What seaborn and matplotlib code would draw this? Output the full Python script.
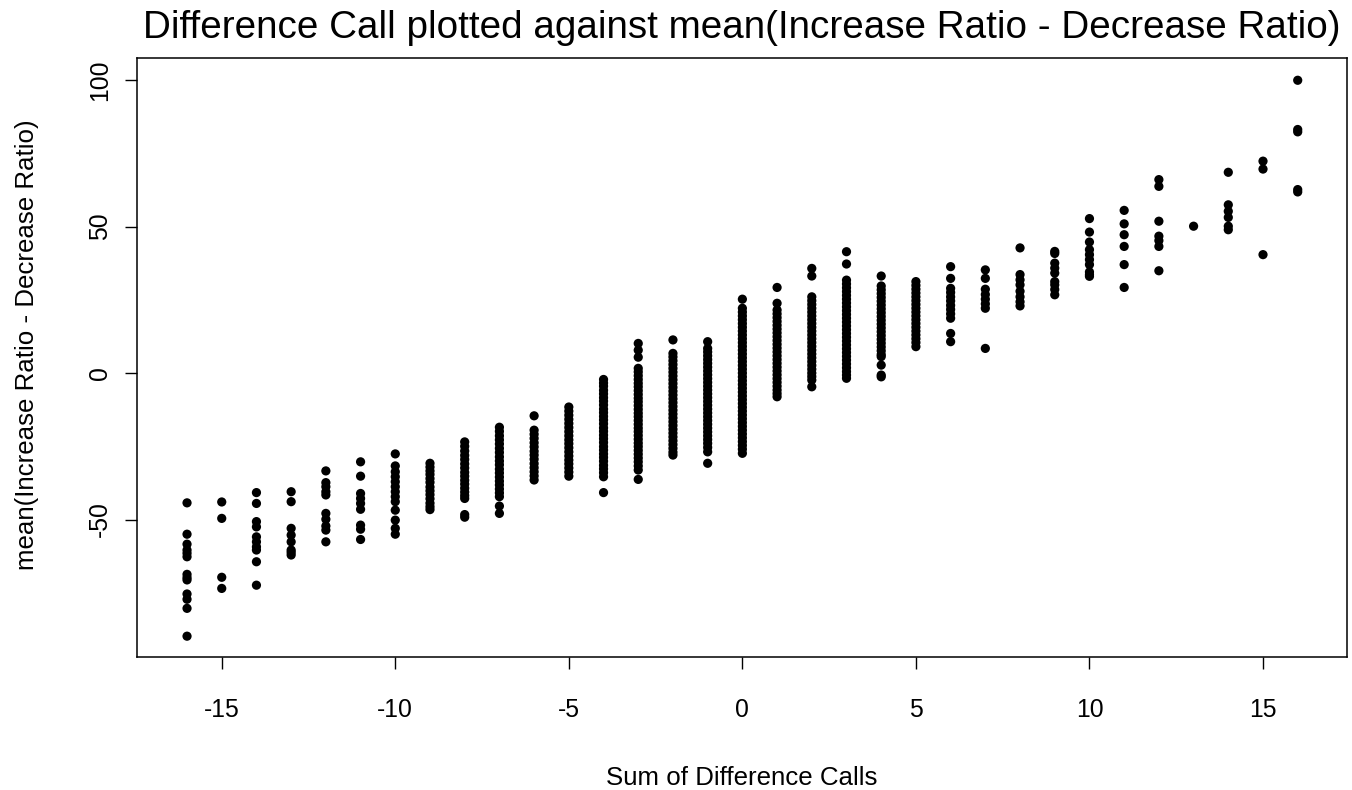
import numpy as np
import pandas as pd
import matplotlib
matplotlib.use("Agg")
import matplotlib.pyplot as plt
import seaborn as sns

# ---- data: y values per "Sum of Difference Calls" column ----
col_m16 = [-44.3, -55.0, -58.4, -60.4, -61.5, -62.7, -68.7, -69.8, -70.6, -75.4, -77.2, -80.3, -89.8]
col_m15 = [-44.0, -49.6, -69.7, -73.5]
col_m14 = [-40.8, -44.5, -50.7, -52.5, -55.9, -57.6, -59.3, -60.4, -64.4, -72.4]
col_m13 = [-40.5, -43.9, -53.0, -55.3, -57.6, -60.4, -61.2, -62.1]
col_m12 = [-33.4, -37.4, -38.8, -40.5, -41.6, -47.9, -49.9, -52.2, -53.6, -57.6]
col_m11 = [-30.3, -35.2, -41.1, -42.8, -44.5, -46.5, -51.9, -53.3, -56.8]
col_m10 = [-27.6, -31.7, -33.7, -35.4, -37.1, -38.8, -40.5, -42.2, -43.9, -46.8, -50.2, -53.0, -55.0]
col_m9 = [-30.8, -32.1, -33.4, -34.6, -36.0, -37.3, -38.9, -40.2, -41.5, -42.9, -44.4, -45.6, -46.6]
col_m8 = [-23.5, -25.0, -26.6, -28.1, -29.5, -31.0, -32.4, -33.9, -35.2, -36.6, -37.9, -39.3,
          -40.6, -41.8, -42.8, -48.3, -49.2]
col_m7 = [-18.5, -19.9, -21.4, -22.8, -24.2, -25.7, -27.1, -28.6, -30.0, -31.3, -32.8, -34.1,
          -35.5, -36.9, -38.2, -39.6, -40.9, -42.2, -45.4, -47.9]
col_m6 = [-14.6, -19.5, -20.9, -22.3, -23.8, -25.2, -26.7, -28.0, -29.4, -30.9, -32.3, -33.7,
          -35.1, -36.5]
col_m5 = [-11.6, -13.0, -14.4, -15.8, -17.2, -18.6, -20.0, -21.4, -22.8, -24.1, -25.5, -26.9,
          -28.3, -29.7, -31.0, -32.4, -33.8, -35.2]
col_m4 = [-2.2, -3.4, -4.5, -5.9, -7.1, -8.4, -9.6, -10.9, -12.3, -13.5, -14.8, -16.0, -17.3,
          -18.7, -19.9, -21.2, -22.4, -23.7, -25.1, -26.3, -27.6, -28.8, -30.1, -31.5, -32.7,
          -34.0, -35.4, -40.8]
col_m3 = [10.1, 7.8, 5.4, 1.6, 0.4, -0.9, -2.2, -3.5, -4.7, -6.0, -7.3, -8.6, -9.8, -11.1, -12.4,
          -13.7, -14.9, -16.2, -17.5, -18.8, -20.0, -21.3, -22.6, -23.9, -25.1, -26.4, -27.7,
          -29.0, -30.3, -31.7, -33.1, -36.3]
col_m2 = [11.3, 6.7, 5.5, 4.2, 2.9, 1.6, 0.3, -1.0, -2.3, -3.6, -4.9, -6.2, -7.5, -8.8, -10.1,
          -11.4, -12.7, -14.0, -15.3, -16.6, -17.9, -19.2, -20.5, -21.8, -23.1, -24.4, -25.7,
          -27.0, -28.0]
col_m1 = [10.7, 8.4, 7.2, 5.9, 4.6, 3.3, 2.0, 0.7, -0.6, -1.9, -3.2, -4.5, -5.8, -7.1, -8.4,
          -9.7, -11.0, -12.3, -13.6, -14.9, -16.2, -17.5, -18.8, -20.1, -21.4, -22.7, -24.0,
          -25.4, -26.9, -30.8]
col_0 = [25.2, 22.1, 20.8, 19.5, 18.2, 16.9, 15.6, 14.3, 13.0, 11.7, 10.4, 9.1, 7.8, 6.5, 5.2,
         3.9, 2.6, 1.3, 0.0, -1.3, -2.6, -3.9, -5.2, -6.5, -7.8, -9.1, -10.4, -11.7, -13.0,
         -14.3, -15.6, -16.9, -18.2, -19.5, -20.8, -22.1, -23.4, -24.7, -26.0, -27.4]
col_1 = [29.2, 23.8, 21.5, 20.2, 18.9, 17.6, 16.3, 15.0, 13.7, 12.4, 11.1, 9.8, 8.5, 7.2, 5.9,
         4.6, 3.3, 2.0, 0.7, -0.6, -1.9, -3.2, -4.5, -5.8, -7.0, -8.1]
col_2 = [35.7, 33.1, 26.0, 24.7, 23.4, 22.1, 20.8, 19.5, 18.2, 16.9, 15.6, 14.3, 13.0, 11.7,
         10.4, 9.1, 7.8, 6.5, 5.2, 3.9, 2.6, 1.3, 0.0, -1.2, -2.4, -4.7]
col_3 = [41.4, 37.2, 31.7, 30.4, 29.1, 27.8, 26.5, 25.2, 23.9, 22.6, 21.3, 20.0, 18.7, 17.4,
         16.1, 14.8, 13.5, 12.2, 10.9, 9.6, 8.3, 7.0, 5.7, 4.4, 3.1, 1.8, 0.5, -0.7, -1.8]
col_4 = [33.1, 29.7, 28.4, 27.1, 25.8, 24.5, 23.2, 21.9, 20.6, 19.3, 18.0, 16.7, 15.4, 14.1,
         12.8, 11.5, 10.2, 8.9, 7.6, 6.3, 5.6, 2.7, -0.7, -1.3]
col_5 = [31.2, 29.9, 28.6, 27.3, 26.0, 24.7, 23.4, 22.1, 20.8, 19.5, 18.2, 16.9, 15.6, 14.3,
         13.0, 11.7, 10.4, 9.0]
col_6 = [36.3, 32.3, 28.9, 27.5, 26.0, 24.6, 23.1, 21.7, 20.2, 18.7, 13.5, 10.7]
col_7 = [35.2, 32.3, 28.6, 26.8, 25.2, 23.6, 22.1, 8.4]
col_8 = [42.7, 33.6, 31.8, 30.1, 27.9, 26.0, 24.3, 22.9]
col_9 = [41.5, 40.8, 37.5, 35.8, 34.1, 31.2, 30.1, 28.5, 26.7]
col_10 = [52.7, 48.1, 44.7, 42.1, 40.4, 38.7, 37.0, 34.5, 33.6, 33.0]
col_11 = [55.5, 50.9, 47.2, 43.2, 37.0, 29.2]
col_12 = [66.0, 63.7, 51.8, 46.7, 45.2, 43.2, 34.9]
col_13 = [50.1]
col_14 = [68.5, 57.4, 55.2, 53.1, 50.1, 48.9]
col_15 = [72.3, 69.6, 40.4]
col_16 = [99.9, 83.1, 82.3, 62.6, 61.8]

sum_calls = list(range(-16, 17))
columns = [col_m16, col_m15, col_m14, col_m13, col_m12, col_m11, col_m10, col_m9, col_m8,
           col_m7, col_m6, col_m5, col_m4, col_m3, col_m2, col_m1, col_0, col_1, col_2,
           col_3, col_4, col_5, col_6, col_7, col_8, col_9, col_10, col_11, col_12, col_13,
           col_14, col_15, col_16]

x_ticks = [-15, -10, -5, 0, 5, 10, 15]
y_ticks = [-50, 0, 50, 100]

title = "Difference Call plotted against mean(Increase Ratio - Decrease Ratio)"
xlabel = "Sum of Difference Calls"
ylabel = "mean(Increase Ratio - Decrease Ratio)"

rows = []
for xv, ys in zip(sum_calls, columns):
    for yv in ys:
        rows.append((xv, yv))
df = pd.DataFrame(rows, columns=["sum", "mean"])

# ---- plot ----
sns.set_theme(style="white")
plt.rcParams["font.family"] = ["Liberation Sans", "DejaVu Sans"]

W, H = 1352, 790
fig = plt.figure(figsize=(W / 100, H / 100), dpi=100)
L, R, T, B = 136.7, 1347.0, 58.0, 656.7
ax = fig.add_axes([L / W, 1 - B / H, (R - L) / W, (B - T) / H])

sns.scatterplot(data=df, x="sum", y="mean", ax=ax, color="black", s=44,
                edgecolor="none", linewidth=0, legend=False)

ax.set_xlim(-17.45, 17.42)
ax.set_ylim(-96.8, 107.5)
ax.set_xticks(x_ticks)
ax.set_yticks(y_ticks)
ax.set_xticklabels([str(v) for v in x_ticks])
ax.set_yticklabels([str(v) for v in y_ticks], rotation=90, va="center")

for sp in ax.spines.values():
    sp.set_visible(True)
    sp.set_color("black")
    sp.set_linewidth(1.1)

ax.tick_params(axis="both", which="major", direction="out", length=8.6, width=1.0,
               color="black", labelsize=17.8, labelcolor="black",
               bottom=True, left=True, top=False, right=False)
ax.tick_params(axis="x", pad=21)
ax.tick_params(axis="y", pad=9)

ax.set_xlabel(xlabel, fontsize=18.6, color="black")
ax.set_ylabel(ylabel, fontsize=18.6, color="black")
ax.xaxis.set_label_coords((742 - L) / (R - L), (B - 778) / (B - T))
ax.xaxis.label.set_va("center")
ax.yaxis.set_label_coords((27 - L) / (R - L), (B - 345) / (B - T))
ax.yaxis.label.set_va("center")

fig.text(742 / W, 1 - 28 / H, title, ha="center", va="center", fontsize=27.8, color="black")

fig.savefig("out.png", dpi=100, facecolor="white")
